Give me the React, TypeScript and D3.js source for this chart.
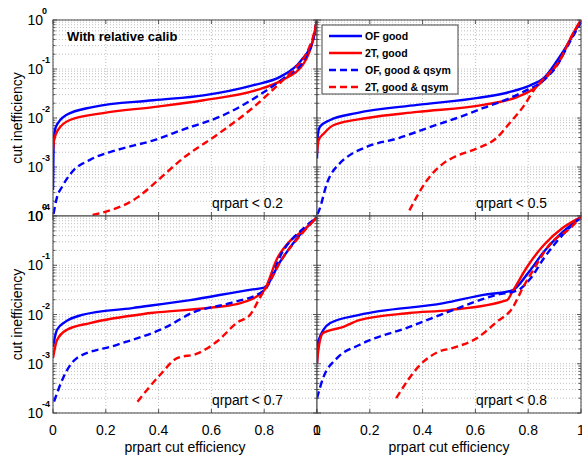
import React from "react";
import * as d3 from "d3";

type Pt = [number, number];

const seriesNames = ["OF good", "2T, good", "OF, good & qsym", "2T, good & qsym"];
const seriesColors = ["#0000ff", "#ff0000", "#0000ff", "#ff0000"];
const seriesDashed = [false, false, true, true];
const panelLabels = ["qrpart < 0.2", "qrpart < 0.5", "qrpart < 0.7", "qrpart < 0.8"];
const xTicks = [0, 0.2, 0.4, 0.6, 0.8, 1];
const xTickLabels = ["0", "0.2", "0.4", "0.6", "0.8", "1"];
const yDecades = [0, -1, -2, -3, -4];

// panel 1: qrpart < 0.2
const p1OF: Pt[] = [[0, 3.4e-4], [0.003, 3.5e-3], [0.011, 6.6e-3], [0.05, 0.0115], [0.15, 0.0167], [0.38, 0.023], [0.57, 0.029], [0.76, 0.047], [0.86, 0.069], [0.94, 0.15], [0.985, 0.39], [1, 1]];
const p12T: Pt[] = [[0, 2.2e-3], [0.004, 3.5e-3], [0.019, 5.7e-3], [0.064, 9.1e-3], [0.19, 0.0126], [0.38, 0.0167], [0.57, 0.023], [0.77, 0.037], [0.87, 0.06], [0.95, 0.13], [0.985, 0.39], [1, 1]];
const p1OFq: Pt[] = [[0.002, 1.1e-4], [0.015, 2.4e-4], [0.034, 3.9e-4], [0.072, 7.9e-4], [0.14, 1.4e-3], [0.24, 2.2e-3], [0.38, 3.5e-3], [0.5, 6e-3], [0.63, 0.0105], [0.81, 0.037], [0.88, 0.069], [0.95, 0.15], [0.985, 0.4], [1, 1]];
const p12Tq: Pt[] = [[0.15, 1.05e-4], [0.32, 2.4e-4], [0.4, 5.5e-4], [0.485, 1.4e-3], [0.63, 4.9e-3], [0.76, 0.0167], [0.86, 0.052], [0.91, 0.096], [0.96, 0.21], [0.985, 0.45], [1, 1]];

// panel 2: qrpart < 0.5
const p2OF: Pt[] = [[0, 1.5e-3], [0.003, 4.5e-3], [0.011, 6.6e-3], [0.05, 9.1e-3], [0.15, 0.0126], [0.38, 0.0185], [0.61, 0.0257], [0.73, 0.034], [0.81, 0.047], [0.86, 0.066], [0.91, 0.15], [0.96, 0.4], [1, 1]];
const p22T: Pt[] = [[0, 1.9e-3], [0.006, 3.5e-3], [0.027, 4.9e-3], [0.064, 7.2e-3], [0.19, 0.01], [0.38, 0.0133], [0.63, 0.0185], [0.76, 0.027], [0.83, 0.043], [0.87, 0.069], [0.92, 0.15], [0.96, 0.42], [1, 1]];
const p2OFq: Pt[] = [[0.002, 1.1e-4], [0.008, 1.3e-4], [0.038, 4.7e-4], [0.087, 1.2e-3], [0.114, 1.6e-3], [0.19, 2.6e-3], [0.31, 3.9e-3], [0.42, 6.3e-3], [0.53, 0.01], [0.63, 0.016], [0.71, 0.023], [0.78, 0.034], [0.86, 0.06], [0.91, 0.12], [0.95, 0.3], [1, 0.9]];
const p22Tq: Pt[] = [[0.35, 1.3e-4], [0.417, 5.4e-4], [0.48, 1.2e-3], [0.52, 1.6e-3], [0.606, 2.4e-3], [0.68, 3.9e-3], [0.73, 7.9e-3], [0.78, 0.0167], [0.83, 0.043], [0.88, 0.083], [0.92, 0.15], [0.96, 0.42], [1, 1]];

// panel 3: qrpart < 0.7
const p3OF: Pt[] = [[0, 2.2e-3], [0.015, 4.9e-3], [0.045, 7.0e-3], [0.11, 9.8e-3], [0.3, 0.0135], [0.52, 0.0196], [0.75, 0.032], [0.8, 0.035], [0.86, 0.117], [0.92, 0.33], [1, 0.95]];
const p32T: Pt[] = [[0, 1.3e-3], [0.015, 3.0e-3], [0.053, 4.9e-3], [0.14, 6.7e-3], [0.37, 0.0107], [0.61, 0.014], [0.71, 0.017], [0.77, 0.023], [0.8, 0.031], [0.85, 0.14], [0.9, 0.32], [0.95, 0.52], [1, 0.95]];
const p3OFq: Pt[] = [[0.004, 1.7e-4], [0.038, 5.1e-4], [0.09, 1.3e-3], [0.24, 2.4e-3], [0.43, 5.6e-3], [0.53, 0.011], [0.67, 0.017], [0.8, 0.031], [0.87, 0.19], [0.95, 0.57], [1, 0.95]];
const p32Tq: Pt[] = [[0.32, 1.7e-4], [0.405, 5.9e-4], [0.47, 1.3e-3], [0.545, 1.6e-3], [0.62, 2.8e-3], [0.7, 7.0e-3], [0.746, 9.8e-3], [0.784, 0.022], [0.82, 0.046], [0.87, 0.14], [0.935, 0.39], [1, 0.95]];

// panel 4: qrpart < 0.8
const p4OF: Pt[] = [[0, 1.0e-3], [0.004, 2.8e-3], [0.05, 6.7e-3], [0.16, 9.8e-3], [0.48, 0.017], [0.63, 0.025], [0.74, 0.031], [0.8, 0.07], [0.86, 0.19], [0.93, 0.47], [1, 0.95]];
const p42T: Pt[] = [[0, 1.0e-3], [0.004, 1.7e-3], [0.023, 4.2e-3], [0.1, 5.6e-3], [0.16, 7.7e-3], [0.35, 0.0107], [0.5, 0.0123], [0.72, 0.0196], [0.74, 0.029], [0.8, 0.1], [0.86, 0.26], [0.93, 0.57], [1, 0.95]];
const p4OFq: Pt[] = [[0, 2.0e-4], [0.023, 5.1e-4], [0.076, 1.3e-3], [0.16, 2.4e-3], [0.35, 5.6e-3], [0.515, 0.0123], [0.68, 0.025], [0.76, 0.031], [0.81, 0.055], [0.86, 0.14], [0.93, 0.41], [1, 0.95]];
const p42Tq: Pt[] = [[0.3, 2.0e-4], [0.39, 9.4e-4], [0.455, 1.7e-3], [0.515, 2.1e-3], [0.605, 3.3e-3], [0.68, 7.0e-3], [0.74, 0.0135], [0.78, 0.035], [0.83, 0.1], [0.88, 0.26], [0.96, 0.57], [1, 0.95]];

const panelData: Pt[][][] = [
  [p1OF, p12T, p1OFq, p12Tq],
  [p2OF, p22T, p2OFq, p22Tq],
  [p3OF, p32T, p3OFq, p32Tq],
  [p4OF, p42T, p4OFq, p42Tq],
];

const FONT = "'Liberation Sans', Arial, Helvetica, sans-serif";

const colsX = [[53, 317], [317, 581]];
const rowsY = [[216, 20], [413, 216]];

function Panel({ idx }: { idx: number }) {
  const col = idx % 2;
  const row = Math.floor(idx / 2);
  const xs = d3.scaleLinear().domain([0, 1]).range(colsX[col]);
  const ys = d3.scaleLog().domain([1e-4, 1]).range(rowsY[row]);
  const [x0, x1] = colsX[col];
  const [yb, yt] = rowsY[row];
  const line = d3
    .line<Pt>()
    .x((d) => xs(d[0]))
    .y((d) => ys(Math.max(d[1], 1e-5)))
    .curve(d3.curveMonotoneX);
  const minorVals: number[] = [];
  for (let k = -4; k < 0; k++) {
    for (let m = 1; m < 10; m++) minorVals.push(m * Math.pow(10, k));
  }
  minorVals.push(1);
  const clipId = `clip${idx}`;
  return (
    <g>
      <defs>
        <clipPath id={clipId}>
          <rect x={x0} y={yt} width={x1 - x0} height={yb - yt} />
        </clipPath>
      </defs>
      <rect x={x0} y={yt} width={x1 - x0} height={yb - yt} fill="#fff" />
      {minorVals.map((v, i) => (
        <line key={"gy" + i} x1={x0} x2={x1} y1={ys(v)} y2={ys(v)} stroke="#b0b0b0" strokeWidth={0.8} strokeDasharray="1,2" />
      ))}
      {xTicks.map((t, i) => (
        <line key={"gx" + i} x1={xs(t)} x2={xs(t)} y1={yt} y2={yb} stroke="#b0b0b0" strokeWidth={0.8} strokeDasharray="1,2" />
      ))}
      {minorVals.map((v, i) => {
        const major = Math.abs(Math.log10(v) - Math.round(Math.log10(v))) < 1e-9;
        const L = major ? 4 : 2.5;
        return (
          <g key={"ty" + i}>
            <line x1={x0} x2={x0 + L} y1={ys(v)} y2={ys(v)} stroke="#333" strokeWidth={0.8} />
            <line x1={x1} x2={x1 - L} y1={ys(v)} y2={ys(v)} stroke="#333" strokeWidth={0.8} />
          </g>
        );
      })}
      {xTicks.map((t, i) => (
        <g key={"tx" + i}>
          <line x1={xs(t)} x2={xs(t)} y1={yb} y2={yb - 4} stroke="#333" strokeWidth={0.8} />
          <line x1={xs(t)} x2={xs(t)} y1={yt} y2={yt + 4} stroke="#333" strokeWidth={0.8} />
        </g>
      ))}
      <g clipPath={`url(#${clipId})`}>
        {panelData[idx].map((s, i) => (
          <path
            key={"s" + i}
            d={line(s) || ""}
            fill="none"
            stroke={seriesColors[i]}
            strokeWidth={2.4}
            strokeDasharray={seriesDashed[i] ? "7,4" : undefined}
            strokeLinejoin="round"
          />
        ))}
      </g>
      <rect x={x0} y={yt} width={x1 - x0} height={yb - yt} fill="none" stroke="#444" strokeWidth={1} />
      <text x={x0 + 159} y={yb - 8} fontFamily={FONT} fontSize={13.8} fill="#000">
        {panelLabels[idx]}
      </text>
      {col === 0 &&
        yDecades.map((k) => (
          <g key={"yl" + k}>
            <text x={43} y={ys(Math.pow(10, k)) + 5} textAnchor="end" fontFamily={FONT} fontSize={14}>
              10
            </text>
            <text x={42} y={ys(Math.pow(10, k)) - 6} fontFamily={FONT} fontSize={9} fontWeight="bold">
              {k === 0 ? "0" : String(k)}
            </text>
          </g>
        ))}
      {row === 1 &&
        xTicks.map((t, i) => (
          <text key={"xl" + i} x={xs(t)} y={435} textAnchor="middle" fontFamily={FONT} fontSize={14}>
            {xTickLabels[i]}
          </text>
        ))}
      {row === 1 && (
        <text x={(x0 + x1) / 2} y={452} textAnchor="middle" fontFamily={FONT} fontSize={14}>
          prpart cut efficiency
        </text>
      )}
      {col === 0 && (
        <text
          transform={`translate(22,${(yt + yb) / 2}) rotate(-90)`}
          textAnchor="middle"
          fontFamily={FONT}
          fontSize={14}
        >
          cut inefficiency
        </text>
      )}
    </g>
  );
}

function Legend() {
  const x = 322, y = 25, w = 136, h = 69;
  return (
    <g>
      <rect x={x} y={y} width={w} height={h} fill="#fff" stroke="#444" strokeWidth={1} />
      {seriesNames.map((n, i) => {
        const cy = y + 11 + i * 17;
        return (
          <g key={n}>
            <line x1={x + 7} x2={x + 40} y1={cy} y2={cy} stroke={seriesColors[i]} strokeWidth={2.4} strokeDasharray={seriesDashed[i] ? "7,4" : undefined} />
            <text x={x + 43} y={cy + 4} fontFamily={FONT} fontSize={10.5} fontWeight="bold">
              {n}
            </text>
          </g>
        );
      })}
    </g>
  );
}

export default function App() {
  return (
    <svg width={582} height={458} style={{ position: "absolute", left: 0, top: 0, background: "#fff" }}>
      <rect x={0} y={0} width={582} height={458} fill="#fff" />
      {[0, 1, 2, 3].map((i) => (
        <Panel key={i} idx={i} />
      ))}
      <text x={67} y={41} fontFamily={FONT} fontSize={13} fontWeight="bold">
        With relative calib
      </text>
      <Legend />
    </svg>
  );
}
